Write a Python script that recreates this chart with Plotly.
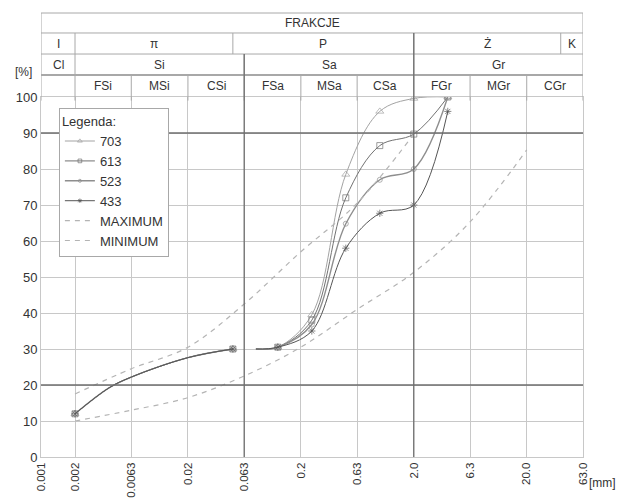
import math
import plotly.graph_objects as go

# ---------------- data ----------------
tick_vals = [0.001, 0.002, 0.0063, 0.02, 0.063, 0.2, 0.63, 2.0, 6.3, 20.0, 63.0]
tick_text = ["0.001", "0.002", "0.0063", "0.02", "0.063", "0.2", "0.63", "2.0", "6.3", "20.0", "63.0"]
y_ticks = [0, 10, 20, 30, 40, 50, 60, 70, 80, 90, 100]

# fine fraction (common to all samples)
x_fine = [0.002, 0.004, 0.0063, 0.02, 0.05]
y_fine = [12, 19.2, 22.2, 27.6, 30]
fine_marked = [True, False, False, False, True]

# sieve fraction
x_sieve = [0.08, 0.125, 0.25, 0.5, 1.0, 2.0, 4.0]
sieve_marked = [False, True, True, True, True, True, True]
s703 = [30, 30.5, 39.5, 78.5, 96.0, 99.6, 100]
s613 = [30, 30.5, 38.0, 72.0, 86.5, 89.7, 100]
s523 = [30, 30.5, 36.8, 64.8, 77.0, 80.0, 100]
s433 = [30, 30.5, 35.0, 58.0, 67.7, 70.0, 96]

max_x = [0.002, 0.0063, 0.02, 0.063, 0.2, 0.63, 2.0]
max_y = [17.5, 24.5, 30.5, 42.5, 57.0, 70.5, 89.7]
min_x = [0.002, 0.0063, 0.02, 0.063, 0.2, 0.63, 2.0, 6.3, 20.0]
min_y = [10.0, 13.0, 16.5, 22.5, 30.5, 41.0, 51.3, 65.3, 85.3]

row2_bounds = [0.001, 0.002, 0.05, 2.0, 40.0, 63.0]
row2_text = ["I", "π", "P", "Ż", "K"]
row3_bounds = [0.001, 0.002, 0.063, 2.0, 63.0]
row3_text = ["Cl", "Si", "Sa", "Gr"]
row4_bounds = tick_vals
row4_text = ["", "FSi", "MSi", "CSi", "FSa", "MSa", "CSa", "FGr", "MGr", "CGr"]

# ---------------- styles ----------------
FONT = "Liberation Sans, Arial, sans-serif"
TXT = "#333333"
GRID = "#c8c8c8"
DARK = "#6e6e6e"
HDR = "#a8a8a8"

series = [
    ("703", s703, "#a3a3a3", "triangle-up-open", 7, 1),
    ("613", s613, "#727272", "square-open", 6, 1),
    ("523", s523, "#8e8e8e", "circle-open", 5, 1.4),
    ("433", s433, "#555555", "asterisk-open", 6, 1),
]

fig = go.Figure()
for name, vals, col, sym, ms, lw in series:
    xs = x_fine + [None] + x_sieve
    ys = y_fine + [None] + vals
    sizes = [ms if m else 0 for m in fine_marked] + [0] + [ms if m else 0 for m in sieve_marked]
    fig.add_trace(go.Scatter(
        x=xs, y=ys, name=name, mode="lines+markers",
        line=dict(color=col, width=lw, shape="spline", smoothing=1.0),
        marker=dict(symbol=sym, size=sizes, color=col, line=dict(color=col, width=1)),
        connectgaps=False,
    ))

fig.add_trace(go.Scatter(x=max_x, y=max_y, name="MAXIMUM", mode="lines",
                         line=dict(color="#b4b4b4", width=1.2, dash="5px,5px", shape="spline")))
fig.add_trace(go.Scatter(x=min_x, y=min_y, name="MINIMUM", mode="lines",
                         line=dict(color="#b4b4b4", width=1.2, dash="5px,5px", shape="spline")))

# ---------------- header table ----------------
# paper y positions of header row boundaries (plot top = 1)
yb = [1.0, 1.0611, 1.1194, 1.1778, 1.2333]
shapes = []
x0, x1 = tick_vals[0], tick_vals[-1]
for i, yy in enumerate(yb[1:], start=1):
    shapes.append(dict(type="line", xref="x", yref="paper", x0=x0, x1=x1, y0=yy, y1=yy,
                       line=dict(color=HDR, width=2 if i == 1 else 1)))
for xv in (x0, x1):
    shapes.append(dict(type="line", xref="x", yref="paper", x0=xv, x1=xv, y0=0.99, y1=yb[4],
                       line=dict(color=HDR, width=1)))

def verticals(bounds, ylo, yhi):
    for xv in bounds[1:-1]:
        shapes.append(dict(type="line", xref="x", yref="paper", x0=xv, x1=xv, y0=ylo, y1=yhi,
                           line=dict(color=HDR, width=1)))

verticals(row4_bounds, 0.99, yb[1])
verticals(row3_bounds, yb[1], yb[2])
verticals(row2_bounds, yb[2], yb[3])

# darker emphasis lines
shapes.append(dict(type="line", xref="x", yref="paper", x0=0.063, x1=0.063, y0=0, y1=yb[2],
                   line=dict(color=DARK, width=1.3)))
shapes.append(dict(type="line", xref="x", yref="paper", x0=2.0, x1=2.0, y0=0, y1=yb[3],
                   line=dict(color=DARK, width=1.3)))
for yy in (20, 90):
    shapes.append(dict(type="line", xref="paper", yref="y", x0=0, x1=1, y0=yy, y1=yy,
                       line=dict(color=DARK, width=1.3)))

annotations = []
def cell_texts(bounds, texts, ylo, yhi):
    for a, b, t in zip(bounds[:-1], bounds[1:], texts):
        if not t:
            continue
        annotations.append(dict(x=(math.log10(a) + math.log10(b)) / 2, y=(ylo + yhi) / 2,
                                xref="x", yref="paper", text=t, showarrow=False,
                                xanchor="center", yanchor="middle",
                                font=dict(family=FONT, size=12, color=TXT)))

cell_texts([x0, x1], ["FRAKCJE"], yb[3], yb[4])
cell_texts(row2_bounds, row2_text, yb[2], yb[3])
cell_texts(row3_bounds, row3_text, yb[1], yb[2])
cell_texts(row4_bounds, row4_text, yb[0], yb[1])

annotations.append(dict(x=-0.033, y=1.069, xref="paper", yref="paper", text="[%]",
                        xanchor="center", yanchor="middle",
                        showarrow=False, font=dict(family=FONT, size=12, color=TXT)))
annotations.append(dict(x=1.008, y=-0.072, xref="paper", yref="paper", text="[mm]",
                        xanchor="left", yanchor="middle",
                        showarrow=False, font=dict(family=FONT, size=12, color=TXT)))

fig.update_layout(
    width=624, height=501, autosize=False,
    margin=dict(l=41, r=41, t=97, b=44),
    paper_bgcolor="white", plot_bgcolor="white",
    font=dict(family=FONT, size=12, color=TXT),
    shapes=shapes, annotations=annotations,
    legend=dict(x=0.033, y=0.969, xanchor="left", yanchor="top",
                bgcolor="white", bordercolor="#a8a8a8", borderwidth=1,
                title=dict(text="Legenda:", font=dict(family=FONT, size=13, color=TXT)),
                font=dict(family=FONT, size=13, color=TXT), itemwidth=30,
                tracegroupgap=0),
    xaxis=dict(type="log", range=[math.log10(tick_vals[0]), math.log10(tick_vals[-1])],
               tickmode="array", tickvals=tick_vals, ticktext=tick_text, tickangle=-90,
               showgrid=True, gridcolor=GRID, gridwidth=1, showline=True, linecolor=GRID,
               mirror=True, zeroline=False, ticks="", automargin=False,
               tickfont=dict(family=FONT, size=11.5, color=TXT)),
    yaxis=dict(range=[0, 100], tickmode="array", tickvals=y_ticks,
               showgrid=True, gridcolor=GRID, gridwidth=1, showline=True, linecolor=GRID,
               mirror=True, zeroline=False, ticks="", automargin=False,
               tickfont=dict(family=FONT, size=13, color=TXT)),
    showlegend=True,
)

fig.write_html("out.html", config={"displayModeBar": False},
               post_script="document.body.style.margin='0';document.body.style.overflow='hidden';")
